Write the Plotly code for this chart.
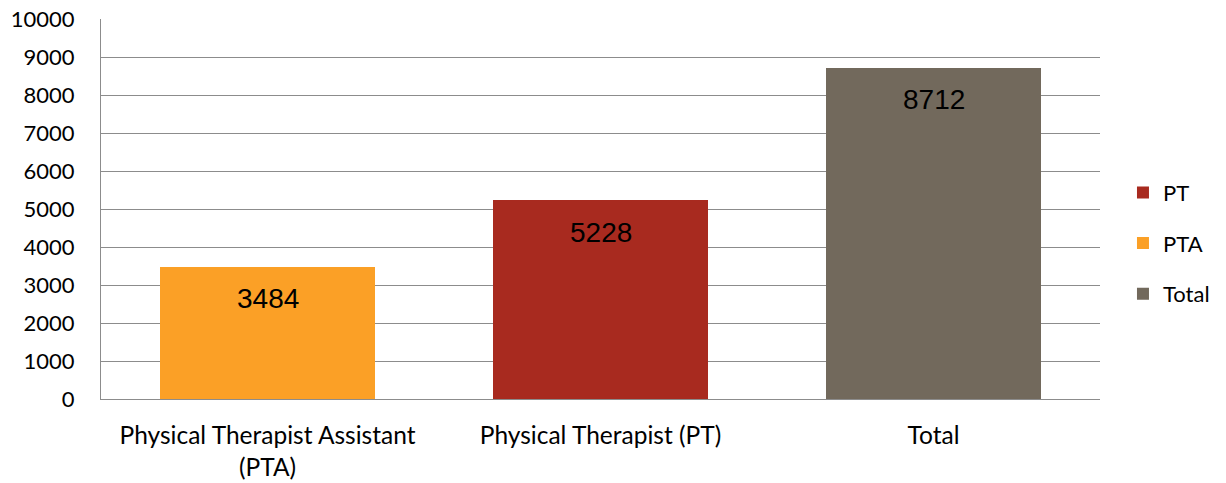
import plotly.graph_objects as go

categories = ["Physical Therapist Assistant<br>(PTA)", "Physical Therapist (PT)", "Total"]
series_names = ["PT", "PTA", "Total"]
series_cats = ["Physical Therapist (PT)", "Physical Therapist Assistant<br>(PTA)", "Total"]
series_values = [5228, 3484, 8712]
series_colors = ["#A82A1F", "#FBA026", "#72695C"]
y_ticks = [0, 1000, 2000, 3000, 4000, 5000, 6000, 7000, 8000, 9000, 10000]
y_tick_labels = ["0", "1000", "2000", "3000", "4000", "5000", "6000", "7000", "8000", "9000", "10000"]

fig = go.Figure()
for name, cat, val, col in zip(series_names, series_cats, series_values, series_colors):
    fig.add_trace(go.Bar(
        name=name, x=[cat], y=[val], marker=dict(color=col, line=dict(width=0)),
        width=0.645, legendgroup=name, showlegend=True,
    ))
    fig.add_annotation(x=cat, y=val, text=str(val), showarrow=False, yshift=-32,
                       font=dict(family="Liberation Sans, Arial", size=28, color="#000000"))

fig.update_layout(
    barmode="overlay",
    width=1226, height=483,
    margin=dict(l=101, r=126, t=19, b=84, autoexpand=False),
    paper_bgcolor="white", plot_bgcolor="white",
    font=dict(family="Lato, Open Sans, sans-serif", size=22, color="#000000"),
    legend=dict(x=1.023, xanchor="left", y=0.41, yanchor="middle",
                traceorder="grouped", tracegroupgap=19, itemwidth=30,
                font=dict(size=22), bgcolor="rgba(0,0,0,0)"),
    xaxis=dict(categoryorder="array", categoryarray=categories, range=[-0.5, 2.5],
               showline=True, linecolor="#8c8c8c", linewidth=1, automargin=False,
               showgrid=False, ticks="", ticklabelstandoff=15, tickfont=dict(size=24.5)),
    yaxis=dict(range=[0, 10000], tickvals=y_ticks, ticktext=y_tick_labels,
               showgrid=True, gridcolor="#8c8c8c", automargin=False,
               gridwidth=1, showline=True, linecolor="#8c8c8c", linewidth=1,
               ticks="", ticklabelstandoff=21, tickfont=dict(size=22), zeroline=False),
    bargap=0,
)
fig.write_html("out.html")
